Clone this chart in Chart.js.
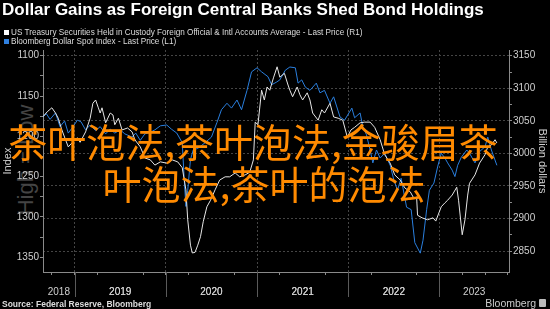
<!DOCTYPE html>
<html>
<head>
<meta charset="utf-8">
<script src="https://cdn.jsdelivr.net/npm/chart.js@4.4.0/dist/chart.umd.min.js"></script>
<style>
  html, body { margin: 0; padding: 0; background: #000; }
  #wrap { position: relative; width: 550px; height: 309px; overflow: hidden; background: #000;
          font-family: "Liberation Sans", Arial, sans-serif; }
  #title { position: absolute; left: 2px; top: 0px; color: #fff; font-weight: bold; font-size: 17px;
           line-height: 20px; white-space: nowrap; }
  .leg { position: absolute; left: 4px; color: #ddd; font-size: 8.2px; line-height: 9px; white-space: nowrap; }
  .leg i { display: inline-block; width: 5px; height: 5px; margin-right: 2px; vertical-align: 0px; }
  #wm { position: absolute; left: -44px; top: 147px; width: 140px; height: 26px; line-height: 26px;
        text-align: center; color: #444; font-size: 22px; transform: rotate(-90deg); white-space: nowrap; }
  #cv { position: absolute; left: 0; top: 0; }
  #overlay { position: absolute; left: 3px; top: 119px; width: 500px; text-align: center; color: #ff8a00;
             font-family: "Noto Sans CJK SC", sans-serif; font-size: 39px; line-height: 42px; white-space: nowrap; }
  #overlay span { display: inline-block; padding-left: 22px; }
  #src { position: absolute; left: 2px; top: 299px; color: #ddd; font-weight: bold; font-size: 8.5px; white-space: nowrap; }
  #bbg { position: absolute; right: 14px; top: 297px; color: #ccc; font-size: 10.5px; white-space: nowrap; }
  #logo { position: absolute; left: 539px; top: 299px; width: 7px; height: 8px; background: #bbb; border-radius: 1px; }
</style>
</head>
<body>
<div id="wrap">
  <div id="wm">High = Low</div>
  <canvas id="cv" width="550" height="309"></canvas>
  <div id="title">Dollar Gains as Foreign Central Banks Shed Bond Holdings</div>
  <div class="leg" style="top:28px"><i style="background:#fff"></i>US Treasury Securities Held in Custody Foreign Official &amp; Intl Accounts Average - Last Price (R1)</div>
  <div class="leg" style="top:37px"><i style="background:#2f80e0"></i>Bloomberg Dollar Spot Index - Last Price (L1)</div>
  <div id="overlay">茶叶泡法,茶叶泡法,金骏眉茶<br><span>叶泡法,茶叶的泡法</span></div>
  <div id="src">Source: Federal Reserve, Bloomberg</div>
  <div id="bbg">Bloomberg</div>
  <div id="logo"></div>
</div>
<script>
// ── Data (decimal years) ─────────────────────────────────────────────────
var yearLabels = ['2018', '2019', '2020', '2021', '2022', '2023'];
var leftTicks  = [1100, 1150, 1200, 1250, 1300, 1350];
var rightTicks = [2850, 2900, 2950, 3000, 3050, 3100, 3150];

// Bloomberg Dollar Spot Index (L1, inverted axis)
var dollarX = [2018.65,2018.69,2018.73,2018.79,2018.84,2018.89,2018.93,2018.97,2019.03,2019.07,
  2019.12,2019.17,2019.23,2019.28,2019.34,2019.39,2019.44,2019.50,2019.55,2019.63,
  2019.67,2019.72,2019.77,2019.83,2019.88,2019.94,2020.01,2020.06,2020.12,2020.18,
  2020.20,2020.22,2020.24,2020.27,2020.30,2020.35,2020.43,2020.50,2020.56,2020.61,
  2020.67,2020.72,2020.78,2020.83,2020.89,2020.94,2021.00,2021.05,2021.12,2021.16,
  2021.21,2021.25,2021.31,2021.36,2021.42,2021.45,2021.49,2021.53,2021.58,2021.65,
  2021.69,2021.74,2021.80,2021.84,2021.91,2021.96,2022.04,2022.07,2022.13,2022.16,
  2022.20,2022.24,2022.27,2022.31,2022.35,2022.40,2022.46,2022.50,2022.54,2022.58,
  2022.64,2022.69,2022.73,2022.79,2022.82,2022.86,2022.89,2022.94,2022.98,2023.02,
  2023.06,2023.09,2023.14,2023.17,2023.20,2023.24,2023.30,2023.33,2023.39,2023.44,
  2023.50,2023.53,2023.57,2023.63];
var dollarIdx = [1176,1172,1179,1171,1188,1181,1196,1190,1180,1182,
  1192,1186,1193,1188,1197,1191,1196,1192,1197,1201,
  1196,1205,1197,1195,1192,1187,1186,1191,1196,1208,
  1250,1287,1267,1229,1217,1215,1208,1201,1183,1167,
  1159,1165,1155,1167,1143,1120,1115,1120,1126,1136,
  1133,1130,1118,1114,1115,1134,1130,1139,1143,1134,
  1146,1143,1159,1151,1176,1180,1165,1177,1171,1188,
  1198,1217,1233,1217,1227,1221,1236,1254,1267,1252,
  1288,1291,1332,1345,1329,1291,1267,1258,1238,1221,
  1227,1233,1242,1250,1236,1226,1217,1221,1233,1219,
  1213,1201,1217,1236];

// US Treasuries held in custody, foreign official & intl (R1, $bn)
var custodyX = [2018.65,2018.70,2018.75,2018.79,2018.82,2018.86,2018.90,2018.93,2018.97,2019.03,
  2019.06,2019.12,2019.17,2019.20,2019.23,2019.26,2019.28,2019.30,2019.34,2019.39,
  2019.42,2019.44,2019.48,2019.52,2019.58,2019.63,2019.66,2019.72,2019.77,2019.83,
  2019.88,2019.94,2020.01,2020.07,2020.13,2020.18,2020.22,2020.24,2020.27,2020.29,
  2020.32,2020.35,2020.38,2020.41,2020.45,2020.49,2020.54,2020.59,2020.65,2020.70,
  2020.76,2020.81,2020.87,2020.92,2020.96,2020.98,2021.01,2021.05,2021.08,2021.11,
  2021.14,2021.18,2021.22,2021.25,2021.30,2021.34,2021.36,2021.39,2021.44,2021.47,
  2021.50,2021.55,2021.58,2021.61,2021.67,2021.71,2021.74,2021.80,2021.84,2021.89,
  2021.94,2021.99,2022.03,2022.07,2022.13,2022.18,2022.24,2022.29,2022.35,2022.40,
  2022.46,2022.51,2022.57,2022.62,2022.68,2022.72,2022.75,2022.76,2022.81,2022.87,
  2022.93,2022.96,2023.02,2023.06,2023.09,2023.14,2023.19,2023.21,2023.25,2023.28,
  2023.31,2023.33,2023.39,2023.44,2023.50,2023.53,2023.57,2023.61,2023.63];
var custodyBn = [3056,3064,3070,3062,3054,3036,3021,3010,3016,3024,
  3017,3033,3054,3077,3082,3070,3062,3070,3047,3062,
  3059,3044,3054,3036,3039,3033,3021,3010,2993,2990,
  2982,2987,2985,2990,2987,2978,2944,2898,2859,2847,
  2848,2859,2872,2895,2918,2928,2944,2959,2964,2964,
  2970,2964,2967,2971,2990,3048,3044,3097,3082,3102,
  3097,3116,3133,3117,3123,3105,3097,3087,3102,3090,
  3082,3093,3082,3062,3051,3067,3062,3077,3056,3054,
  3051,3025,3036,3040,3047,3048,3048,3040,3021,2998,
  2985,2967,2959,2947,2941,2931,2933,2905,2901,2898,
  2901,2896,2918,2924,2928,2936,2948,2928,2875,2898,
  2936,2954,2967,2985,2998,3010,3013,3021,3016];

// ── Axis extents ──────────────────────────────────────────────────────────
var xMin = 2018.653, xMax = 2023.763;
var tickCol = '#cfcfcf';
var axisCol = '#8a8a8a';
var gridCol = '#454545';

function pairs(xs, ys) {
  return xs.map(function(x, i) { return { x: x, y: ys[i] }; });
}
function isWhole(v) { return Math.abs(v - Math.round(v)) < 1e-6; }

// year labels sit centred in the visible part of each year
var labelPos = yearLabels.map(function(y) {
  var a = Math.max(+y, xMin), b = Math.min(+y + 1, xMax);
  return (a + b) / 2;
});
var quarters = [];
for (var yr = 2018; yr <= 2023; yr++) {
  for (var q = 0; q < 4; q++) {
    var v = yr + q / 4;
    if (v >= xMin && v <= xMax) quarters.push(v);
  }
}
function withMinor(major) {
  var out = [];
  major.forEach(function(v, i) {
    out.push(v);
    if (i < major.length - 1) out.push((v + major[i + 1]) / 2);
  });
  return out;
}

// separators that run from the axis down through the year labels
var yearSeparators = {
  id: 'yearSeparators',
  afterDraw: function(chart) {
    var xs = chart.scales.x, ctx = chart.ctx, b = chart.chartArea.bottom;
    ctx.save();
    ctx.strokeStyle = '#5a5a5a';
    ctx.lineWidth = 1;
    for (var y = Math.ceil(xs.min); y <= xs.max; y++) {
      var px = Math.round(xs.getPixelForValue(y)) + 0.5;
      ctx.beginPath();
      ctx.moveTo(px, b);
      ctx.lineTo(px, b + 25);
      ctx.stroke();
    }
    ctx.restore();
  }
};

new Chart(document.getElementById('cv'), {
  type: 'line',
  data: {
    datasets: [
      {
        label: 'US Treasury Securities Held in Custody',
        data: pairs(custodyX, custodyBn),
        yAxisID: 'yR',
        borderColor: '#e6e6e6',
        borderWidth: 1,
        pointRadius: 0,
        tension: 0,
      },
      {
        label: 'Bloomberg Dollar Spot Index',
        data: pairs(dollarX, dollarIdx),
        yAxisID: 'yL',
        borderColor: '#2a7fde',
        borderWidth: 1,
        pointRadius: 0,
        tension: 0,
      }
    ]
  },
  options: {
    responsive: false,
    animation: false,
    devicePixelRatio: 1,
    layout: { padding: { top: 50, left: 0, right: 0, bottom: 0 } },
    plugins: { legend: { display: false }, tooltip: { enabled: false } },
    scales: {
      x: {
        type: 'linear',
        min: xMin,
        max: xMax,
        afterBuildTicks: function(s) {
          s.ticks = quarters.concat(labelPos).map(function(v) { return { value: v }; });
        },
        afterFit: function(s) { s.height = 37; },
        ticks: {
          autoSkip: false,
          maxRotation: 0,
          color: tickCol,
          font: { family: 'Liberation Sans', size: 10 },
          padding: 11,
          callback: function(v) {
            var i = labelPos.indexOf(v);
            return i >= 0 ? yearLabels[i] : '';
          }
        },
        grid: {
          color: function(c) { return c.tick && isWhole(c.tick.value) ? gridCol : 'transparent'; },
          tickColor: function(c) { return c.tick && labelPos.indexOf(c.tick.value) >= 0 ? 'transparent' : axisCol; },
          tickLength: 3,
          lineWidth: 1,
        },
        border: { color: axisCol, dash: [2, 2] },
      },
      yL: {
        position: 'left',
        reverse: true,
        min: 1092.9,
        max: 1368.4,
        afterBuildTicks: function(s) {
          s.ticks = withMinor(leftTicks).map(function(v) { return { value: v }; });
        },
        afterFit: function(s) { s.width = 43; },
        ticks: {
          autoSkip: false,
          color: tickCol,
          font: { family: 'Liberation Sans', size: 10 },
          padding: 1,
          callback: function(v) { return leftTicks.indexOf(v) >= 0 ? String(v) : ''; }
        },
        grid: { drawOnChartArea: false, tickColor: axisCol, tickLength: 3 },
        border: { color: axisCol },
        title: {
          display: true, text: 'Index', color: tickCol,
          font: { family: 'Liberation Sans', size: 11 }, padding: { top: 1, bottom: 0 }
        },
      },
      yR: {
        position: 'right',
        min: 2817.8,
        max: 3158.8,
        afterBuildTicks: function(s) {
          s.ticks = withMinor(rightTicks).map(function(v) { return { value: v }; });
        },
        afterFit: function(s) { s.width = 41; },
        ticks: {
          autoSkip: false,
          color: tickCol,
          font: { family: 'Liberation Sans', size: 10 },
          padding: 1,
          callback: function(v) { return rightTicks.indexOf(v) >= 0 ? String(v) : ''; }
        },
        grid: {
          color: function(c) { return c.tick && rightTicks.indexOf(c.tick.value) >= 0 ? gridCol : 'transparent'; },
          tickColor: axisCol,
          tickLength: 3,
        },
        border: { color: axisCol, dash: [2, 2] },
        title: {
          display: true, text: 'Billion dollars', color: tickCol,
          font: { family: 'Liberation Sans', size: 11 }, padding: { top: 1, bottom: 0 }
        },
      }
    }
  },
  plugins: [yearSeparators]
});
</script>
</body>
</html>
